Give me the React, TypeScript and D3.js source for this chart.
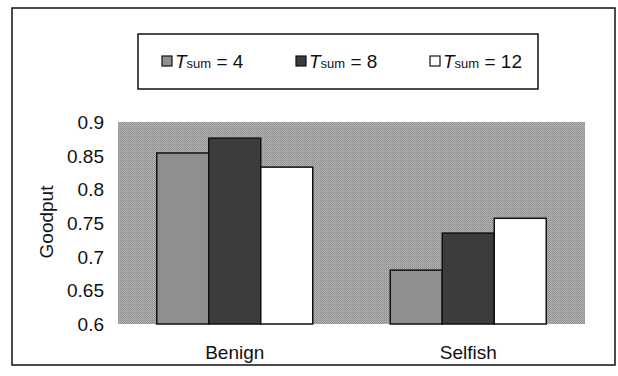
import React from "react";
import * as d3 from "d3";

const categories = ["Benign", "Selfish"];
const seriesNames = ["4", "8", "12"];
const tsum4 = [0.854, 0.68];
const tsum8 = [0.876, 0.735];
const tsum12 = [0.833, 0.757];
const yTicks = [0.6, 0.65, 0.7, 0.75, 0.8, 0.85, 0.9];
const seriesValues = [tsum4, tsum8, tsum12];
const seriesColors = ["#8f8f8f", "#3c3c3c", "#ffffff"];

export default function App() {
  const W = 618, H = 376;
  const plot = { left: 118, right: 585, top: 122, bottom: 324 };
  const y = d3.scaleLinear().domain([0.6, 0.9]).range([plot.bottom, plot.top]);
  const x0 = d3.scaleBand<string>().domain(categories).range([plot.left, plot.right]);
  const x1 = d3
    .scaleBand<string>()
    .domain(seriesNames)
    .range([0, x0.bandwidth()])
    .paddingInner(0)
    .paddingOuter(0.745);
  const font = "'Liberation Sans', Arial, sans-serif";
  const legendX = [162, 296, 430];

  return (
    <svg
      width={W}
      height={H}
      style={{ position: "absolute", left: 0, top: 0, background: "#fff" }}
      fontFamily={font}
    >
      <defs>
        <pattern id="dither" width="2" height="2" patternUnits="userSpaceOnUse">
          <rect width="2" height="2" fill="#b4b4b4" />
          <rect width="1" height="1" fill="#888" />
          <rect x="1" y="1" width="1" height="1" fill="#999" />
        </pattern>
      </defs>
      <rect x={12} y={8} width={603} height={357} fill="#fff" stroke="#111" strokeWidth={1.5} />
      <rect x={138} y={34} width={400} height={55} fill="#fff" stroke="#111" strokeWidth={1.5} />
      {seriesNames.map((s, i) => (
        <g key={s}>
          <rect x={legendX[i]} y={56} width={10} height={10} fill={seriesColors[i]} stroke="#111" strokeWidth={1.2} />
          <text x={legendX[i] + 13} y={68} fontSize={19} fill="#111">
            <tspan fontStyle="italic">T</tspan>
            <tspan fontSize={13}>sum</tspan>
            <tspan> = {s}</tspan>
          </text>
        </g>
      ))}
      <rect
        x={plot.left}
        y={plot.top}
        width={plot.right - plot.left}
        height={plot.bottom - plot.top}
        fill="url(#dither)"
      />
      {categories.map((c, ci) =>
        seriesNames.map((s, si) => {
          const v = seriesValues[si][ci];
          const bx = (x0(c) ?? 0) + (x1(s) ?? 0);
          return (
            <rect
              key={c + s}
              x={bx}
              y={y(v)}
              width={x1.bandwidth()}
              height={plot.bottom - y(v)}
              fill={seriesColors[si]}
              stroke="#111"
              strokeWidth={1.5}
            />
          );
        })
      )}
      {yTicks.map((t) => (
        <text key={t} x={104} y={y(t) + 7} fontSize={19} textAnchor="end" fill="#111">
          {String(t)}
        </text>
      ))}
      <text
        transform={`translate(53, 222) rotate(-90)`}
        fontSize={19}
        textAnchor="middle"
        fill="#111"
      >
        Goodput
      </text>
      {categories.map((c) => (
        <text
          key={c}
          x={(x0(c) ?? 0) + x0.bandwidth() / 2}
          y={359}
          fontSize={19}
          textAnchor="middle"
          fill="#111"
        >
          {c}
        </text>
      ))}
    </svg>
  );
}
